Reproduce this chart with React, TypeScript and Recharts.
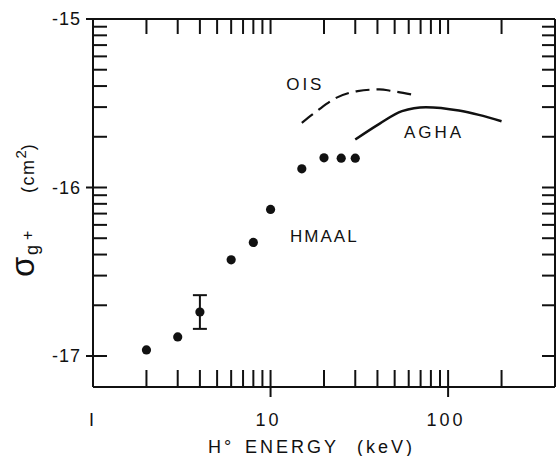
import React from 'react';
import {
  ComposedChart,
  Line,
  Scatter,
  XAxis,
  YAxis,
  ErrorBar,
  ReferenceDot,
  ReferenceLine,
  Label,
} from 'recharts';

// HMAAL measured points (energy keV, log10 sigma)
const hmaalEnergy = [2, 3, 4, 6, 8, 10, 15, 20, 25, 30];
const hmaalSigma = [-16.964, -16.887, -16.739, -16.429, -16.326, -16.13, -15.889, -15.824, -15.826, -15.826];
const hmaalErr = [0, 0, 0.1, 0, 0, 0, 0, 0, 0, 0];

// OIS dashed curve
const oisEnergy = [15, 18.4, 23.4, 30.9, 41, 48.7, 62.5];
const oisSigma = [-15.616, -15.543, -15.468, -15.428, -15.418, -15.428, -15.448];

// AGHA solid curve
const aghaEnergy = [30, 41, 55, 75, 115, 149, 200];
const aghaSigma = [-15.715, -15.622, -15.547, -15.523, -15.543, -15.569, -15.607];

const xTicks = [1, 2, 3, 4, 5, 6, 7, 8, 9, 10, 20, 30, 40, 50, 60, 70, 80, 90, 100, 200];
const xMajor = [1, 10, 100];
const yMajor = [-17, -16, -15];
const mantissas = [2, 3, 4, 5, 6, 7, 8, 9];
const yTicks = [
  ...yMajor,
  ...yMajor.slice(0, 2).flatMap((d) => mantissas.map((m) => d + Math.log10(m))),
].sort((a, b) => a - b);

// energy axis is logarithmic: plot log10(E) on a linear axis
const lg = (e: number) => Math.log10(e);
const hmaal = hmaalEnergy.map((e, i) => ({ x: lg(e), y: hmaalSigma[i], err: hmaalErr[i] }));
const ois = oisEnergy.map((e, i) => ({ x: lg(e), y: oisSigma[i] }));
const agha = aghaEnergy.map((e, i) => ({ x: lg(e), y: aghaSigma[i] }));

const FONT = '"Liberation Sans", Arial, sans-serif';
const ink = '#111';
const X_DOMAIN = [0, lg(400)];
const Y_DOMAIN = [-17.184, -15];

const W = 557;
const H = 456;
const MARGIN = { top: 19, right: 2, left: 0, bottom: 0 };
const X_AXIS_H = 69;
const Y_AXIS_W = 93;
const PLOT_W = W - MARGIN.left - MARGIN.right - Y_AXIS_W;
const PLOT_H = H - MARGIN.top - MARGIN.bottom - X_AXIS_H;
const AXIS_Y = MARGIN.top + PLOT_H;

const isMajorY = (v: number) => yMajor.some((m) => Math.abs(m - v) < 1e-6);

// x position of an energy tick inside the plot frame
const xPos = (left: number, e: number) =>
  left + ((lg(e) - X_DOMAIN[0]) / (X_DOMAIN[1] - X_DOMAIN[0])) * PLOT_W;

const BottomLabel = ({ x, payload }: any) => {
  const e = Math.round(Math.pow(10, Number(payload.value)));
  return (
    <text x={Number(x)} y={AXIS_Y + 39} dx={e === 1 ? 0 : -2} textAnchor="middle" fontSize={18} letterSpacing={3} fill={ink} fontFamily={FONT}>
      {e === 1 ? 'I' : String(e)}
    </text>
  );
};

// left ticks, the mirrored tick on the right edge; the first call also draws
// the energy tick marks on the bottom and top edges of the frame
const LeftTick = ({ x, y, payload, index }: any) => {
  const major = isMajorY(payload.value);
  const left = Number(x);
  const right = left + PLOT_W;
  return (
    <g>
      <line x1={major ? left - 7 : left} x2={left + 14} y1={y} y2={y} stroke={ink} strokeWidth={2} />
      <line x1={right - 13} x2={right} y1={y} y2={y} stroke={ink} strokeWidth={2} />
      {major && (
        <text x={left - 12} y={y} dy="0.35em" textAnchor="end" fontSize={18} letterSpacing={1} fill={ink} fontFamily={FONT}>
          {'-' + String(Math.abs(payload.value))}
        </text>
      )}
      {index === 0 &&
        xTicks
          .filter((e) => e !== 1)
          .map((e) => {
            const px = xPos(left, e);
            const decade = xMajor.includes(e);
            return (
              <g key={e}>
                <line x1={px} x2={px} y1={AXIS_Y - 17} y2={decade ? AXIS_Y + 10 : AXIS_Y} stroke={ink} strokeWidth={2} />
                <line x1={px} x2={px} y1={MARGIN.top} y2={MARGIN.top + 15} stroke={ink} strokeWidth={2} />
              </g>
            );
          })}
    </g>
  );
};

const plotLabel = (text: string, spacing: number) => (props: any) => {
  const vb = props.viewBox || {};
  return (
    <text x={vb.x} y={vb.y} dy="0.35em" textAnchor="middle" fontSize={17} letterSpacing={spacing} fill={ink} fontFamily={FONT}>
      {text}
    </text>
  );
};

const YTitle = () => (
  <text transform="translate(34,277) rotate(-90)" fill={ink} fontFamily={FONT}>
    <tspan x={0} fontSize={33}>σ</tspan>
    <tspan x={22} dy={4} fontSize={18}>g</tspan>
    <tspan x={37} dy={-5} fontSize={16}>+</tspan>
    <tspan x={84} dy={1} fontSize={18} letterSpacing={1.5}>(cm</tspan>
    <tspan dy={-8} fontSize={15}>2</tspan>
    <tspan dy={8} fontSize={18}>)</tspan>
  </text>
);

const XTitle = () => (
  <text y={453} fill={ink} fontFamily={FONT} fontSize={18} letterSpacing={3}>
    <tspan x={208}>H°</tspan>
    <tspan x={245}>ENERGY</tspan>
    <tspan x={357}>(keV)</tspan>
  </text>
);

export default function App() {
  return (
    <div style={{ position: 'absolute', left: 0, top: 0, width: W, height: H, background: '#fff' }}>
      <ComposedChart width={W} height={H} margin={MARGIN} style={{ fontFamily: FONT }}>
        <XAxis
          dataKey="x"
          type="number"
          domain={X_DOMAIN}
          allowDataOverflow
          ticks={xMajor.map(lg)}
          interval={0}
          height={X_AXIS_H}
          tickSize={0}
          tickMargin={0}
          tickLine={false}
          axisLine={{ stroke: ink, strokeWidth: 2 }}
          tick={<BottomLabel />}
        >
          <Label content={<XTitle />} />
        </XAxis>
        <YAxis
          dataKey="y"
          type="number"
          domain={Y_DOMAIN}
          allowDataOverflow
          ticks={yTicks}
          interval={0}
          width={Y_AXIS_W}
          tickSize={0}
          tickMargin={0}
          tickLine={false}
          axisLine={{ stroke: ink, strokeWidth: 2 }}
          tick={<LeftTick />}
        >
          <Label content={<YTitle />} />
        </YAxis>
        {/* top and right edges of the frame */}
        <ReferenceLine y={Y_DOMAIN[1]} stroke={ink} strokeWidth={2} />
        <ReferenceLine x={X_DOMAIN[1]} stroke={ink} strokeWidth={2} />
        <Line
          data={ois}
          dataKey="y"
          type="monotone"
          stroke={ink}
          strokeWidth={2.2}
          strokeDasharray="14 7"
          dot={false}
          activeDot={false}
          isAnimationActive={false}
        />
        <Line
          data={agha}
          dataKey="y"
          type="monotone"
          stroke={ink}
          strokeWidth={2.5}
          dot={false}
          activeDot={false}
          isAnimationActive={false}
        />
        <Scatter
          data={hmaal}
          dataKey="y"
          fill={ink}
          isAnimationActive={false}
          shape={(p: any) => <circle cx={p.cx} cy={p.cy} r={4.6} fill={ink} />}
        >
          <ErrorBar dataKey="err" direction="y" width={7} strokeWidth={2} stroke={ink} />
        </Scatter>
        <ReferenceDot x={lg(15.7)} y={-15.386} r={0} stroke="none" label={plotLabel('OIS', 3)} />
        <ReferenceDot x={lg(83.4)} y={-15.668} r={0} stroke="none" label={plotLabel('AGHA', 3)} />
        <ReferenceDot x={lg(20.1)} y={-16.291} r={0} stroke="none" label={plotLabel('HMAAL', 2)} />
      </ComposedChart>
    </div>
  );
}
